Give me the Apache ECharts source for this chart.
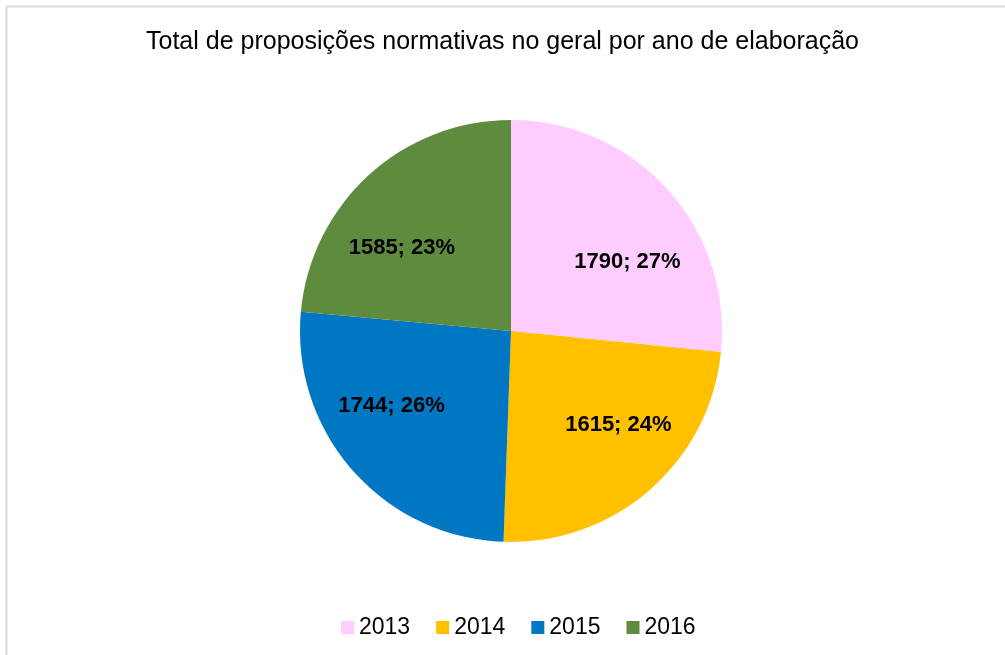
<!DOCTYPE html>
<html>
<head>
<meta charset="utf-8">
<script src="https://cdn.jsdelivr.net/npm/echarts@6/dist/echarts.min.js"></script>
<style>
  html, body { margin: 0; padding: 0; background: #fff; }
  #main { width: 1005px; height: 655px; }
</style>
</head>
<body>
<div id="main"></div>
<script>
// data
const years = ['2013', '2014', '2015', '2016'];
const totals = [1790, 1615, 1744, 1585];
const sliceColors = ['#FFCCFF', '#FFC000', '#0077C2', '#5F8B3F'];
// Excel places the labels further out than the ECharts default
const labelShift = [[36, 4], [36, 12], [-38, 3], [-36, -3]];

const chart = echarts.init(document.getElementById('main'));

const option = {
    backgroundColor: '#fff',
    animation: false,
    title: {
        text: 'Total de proposições normativas no geral por ano de elaboração',
        left: 'center',
        top: 25,
        textStyle: {
            fontFamily: 'Liberation Sans, Arial, sans-serif',
            fontWeight: 'normal',
            fontSize: 25,
            color: '#000'
        }
    },
    legend: {
        bottom: 11,
        left: 336,
        icon: 'rect',
        itemWidth: 13,
        itemHeight: 13,
        itemGap: 26,
        textStyle: {
            fontFamily: 'Liberation Sans, Arial, sans-serif',
            fontSize: 23,
            color: '#000'
        },
        data: years
    },
    graphic: [
        {
            type: 'line',
            shape: { x1: 6.5, y1: 6.5, x2: 1005, y2: 6.5 },
            style: { stroke: '#d9d9d9', lineWidth: 2 }
        },
        {
            type: 'line',
            shape: { x1: 6.5, y1: 6.5, x2: 6.5, y2: 655 },
            style: { stroke: '#d9d9d9', lineWidth: 2 }
        }
    ],
    series: [
        {
            type: 'pie',
            center: [511, 331],
            radius: 211,
            startAngle: 90,
            clockwise: true,
            avoidLabelOverlap: false,
            percentPrecision: 0,
            itemStyle: { borderWidth: 0 },
            label: {
                show: true,
                position: 'inside',
                formatter: '{c}; {d}%',
                fontFamily: 'Liberation Sans, Arial, sans-serif',
                fontWeight: 'bold',
                fontSize: 22,
                color: '#000'
            },
            emphasis: { disabled: true },
            data: years.map((y, i) => ({
                name: y,
                value: totals[i],
                itemStyle: { color: sliceColors[i] },
                label: { offset: labelShift[i] }
            }))
        }
    ]
};

chart.setOption(option);
</script>
</body>
</html>
